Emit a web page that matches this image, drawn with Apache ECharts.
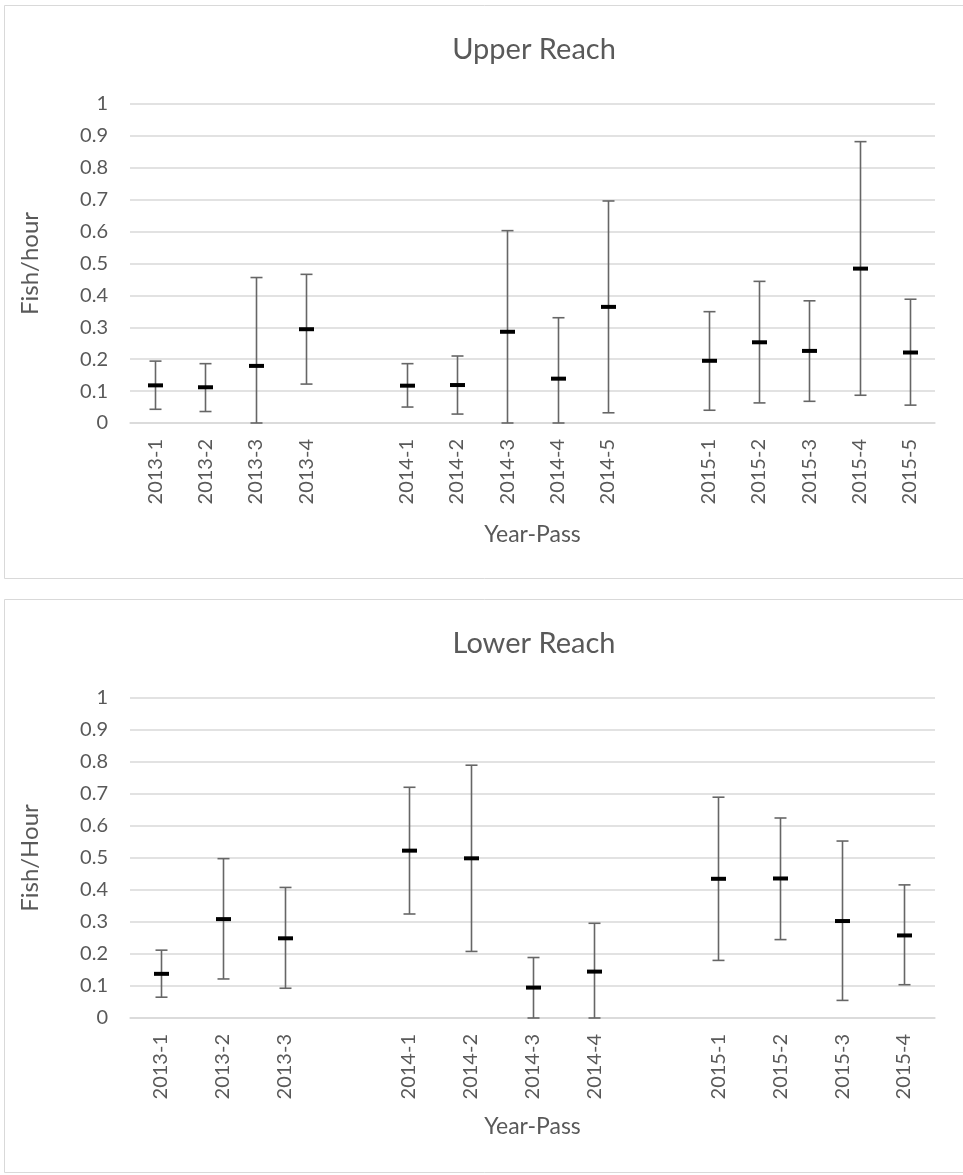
<!DOCTYPE html>
<html>
<head>
<meta charset="utf-8">
<script src="https://cdn.jsdelivr.net/npm/echarts@6/dist/echarts.min.js"></script>
<style>
html,body{margin:0;padding:0;background:#fff;}
#c{width:963px;height:1175px;}
</style>
</head>
<body>
<div id="c"></div>
<script>
// ---- Upper Reach ----
const upperCats = ['2013-1','2013-2','2013-3','2013-4','','2014-1','2014-2','2014-3','2014-4','2014-5','','2015-1','2015-2','2015-3','2015-4','2015-5'];
const upperMean = [0.118,0.112,0.179,0.294,null,0.117,0.119,0.286,0.139,0.364,null,0.195,0.253,0.226,0.484,0.221];
const upperHigh = [0.194,0.186,0.456,0.466,null,0.186,0.210,0.603,0.330,0.696,null,0.349,0.444,0.383,0.882,0.388];
const upperLow  = [0.043,0.036,0.000,0.122,null,0.050,0.028,0.000,0.000,0.032,null,0.040,0.063,0.068,0.087,0.056];

// ---- Lower Reach ----
const lowerCats = ['2013-1','2013-2','2013-3','','2014-1','2014-2','2014-3','2014-4','','2015-1','2015-2','2015-3','2015-4'];
const lowerMean = [0.138,0.309,0.249,null,0.523,0.499,0.095,0.145,null,0.435,0.436,0.303,0.258];
const lowerHigh = [0.212,0.498,0.408,null,0.721,0.790,0.189,0.296,null,0.690,0.625,0.553,0.416];
const lowerLow  = [0.065,0.122,0.093,null,0.325,0.208,0.000,0.000,null,0.180,0.245,0.055,0.104];

const yTicks = [0,0.1,0.2,0.3,0.4,0.5,0.6,0.7,0.8,0.9,1];

const FONT = 'Lato, "Open Sans", sans-serif';
const TXT = '#595959';
const GRID = '#d9d9d9';

function buildData(mean, low, high){
  const out = [];
  mean.forEach((m,i)=>{ if(m!==null) out.push([i,m,low[i],high[i]]); });
  return out;
}

function renderItem(params, api){
  const i = api.value(0);
  const pm = api.coord([i, api.value(1)]);
  const pl = api.coord([i, api.value(2)]);
  const ph = api.coord([i, api.value(3)]);
  const x = Math.round(pm[0]) + 0.5;
  const cap = 6, mw = 7.5;
  const ls = {stroke:'#666666', lineWidth:1.6};
  return {
    type:'group',
    children:[
      {type:'line', shape:{x1:x,y1:ph[1],x2:x,y2:pl[1]}, style:ls},
      {type:'line', shape:{x1:x-cap,y1:ph[1],x2:x+cap,y2:ph[1]}, style:ls},
      {type:'line', shape:{x1:x-cap,y1:pl[1],x2:x+cap,y2:pl[1]}, style:ls},
      {type:'line', shape:{x1:x-mw,y1:pm[1],x2:x+mw,y2:pm[1]}, style:{stroke:'#000', lineWidth:4}}
    ]
  };
}

function xAxis(idx, cats, gap){
  return {
    type:'category', gridIndex:idx, data:cats, boundaryGap:true,
    axisTick:{show:false},
    axisLine:{show:true, lineStyle:{color:GRID, width:1.5}},
    axisLabel:{rotate:90, margin:16, color:TXT, fontSize:20, fontFamily:FONT, interval:0},
    name:'Year-Pass', nameLocation:'middle', nameGap:gap,
    nameTextStyle:{color:TXT, fontSize:23, fontFamily:FONT}
  };
}
function yAxis(idx, name){
  return {
    type:'value', gridIndex:idx, min:0, max:1, interval:0.1,
    axisLine:{show:false}, axisTick:{show:false},
    splitLine:{show:true, lineStyle:{color:GRID, width:1.5}},
    axisLabel:{color:TXT, fontSize:20, fontFamily:FONT, margin:22,
      formatter:v=>{ const t = yTicks.find(k=>Math.abs(k-v)<1e-6); return t===undefined? '' : String(t); }},
    name:name, nameLocation:'middle', nameGap:88, nameRotate:90,
    nameTextStyle:{color:TXT, fontSize:24, fontFamily:FONT}
  };
}

const chart = echarts.init(document.getElementById('c'), null, {renderer:'canvas'});
chart.setOption({
  animation:false,
  backgroundColor:'#fff',
  title:[
    {text:'Upper Reach', left:529, top:30, textAlign:'center', textStyle:{color:TXT, fontSize:29, fontWeight:'normal', fontFamily:FONT}},
    {text:'Lower Reach', left:529, top:624, textAlign:'center', textStyle:{color:TXT, fontSize:29, fontWeight:'normal', fontFamily:FONT}}
  ],
  graphic:[
    {type:'rect', shape:{x:4.5,y:5.5,width:960,height:573}, style:{fill:'none', stroke:GRID, lineWidth:1}, silent:true},
    {type:'rect', shape:{x:4.5,y:599.5,width:960,height:573}, style:{fill:'none', stroke:GRID, lineWidth:1}, silent:true}
  ],
  grid:[
    {left:130, right:28, top:104, height:319},
    {left:130, right:28, top:698, height:320}
  ],
  xAxis:[xAxis(0, upperCats, 100), xAxis(1, lowerCats, 97)],
  yAxis:[yAxis(0,'Fish/hour'), yAxis(1,'Fish/Hour')],
  series:[
    {type:'custom', xAxisIndex:0, yAxisIndex:0, renderItem:renderItem, data:buildData(upperMean, upperLow, upperHigh), encode:{x:0, y:[1,2,3]}},
    {type:'custom', xAxisIndex:1, yAxisIndex:1, renderItem:renderItem, data:buildData(lowerMean, lowerLow, lowerHigh), encode:{x:0, y:[1,2,3]}}
  ]
});
</script>
</body>
</html>
